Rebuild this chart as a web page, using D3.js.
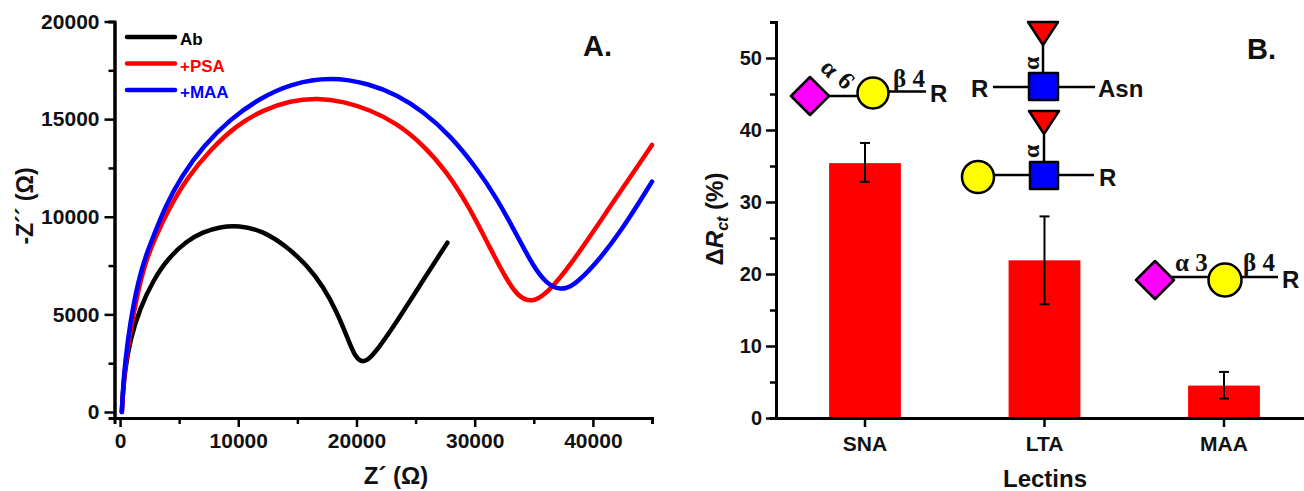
<!DOCTYPE html>
<html lang="en">
<head>
  <meta charset="UTF-8">
  <title>Impedance and lectins</title>
  <script src="https://d3js.org/d3.v7.min.js"></script>
  <style>
    html, body { margin: 0; padding: 0; background: #fff; overflow: hidden; }
    text { font-family: "Liberation Sans", Arial, sans-serif; font-weight: bold; fill: #111; }
  </style>
</head>
<body>
<div id="chart-container"></div>

<script>
// Nyquist curves, [Z', -Z'']
var abCurve = [[150,0],[260,1100],[423,2150],[846,3690],[1692,5330],[2817,6760],[4086,7890],[5643,8760],[7000,9220],[8460,9480],[10000,9570],[12124,9270],[14103,8470],[15795,7530],[17200,6420],[18333,5140],[19315,3690],[19882,2820],[20584,2480],[21430,2900],[23122,4350],[25381,6506],[27690,8673]];
var psaCurve = [[150,0],[260,1200],[423,2300],[846,4047],[1413,5891],[2115,7633],[3020,9000],[4086,10348],[5643,11972],[7614,13422],[9873,14703],[12124,15471],[14382,15948],[16751,16090],[18950,15900],[21151,15471],[23410,14790],[25660,13678],[27640,12310],[29611,10436],[31303,8386],[32716,6762],[33697,5900],[34831,5600],[36100,6050],[38087,7500],[40888,10005],[45000,13678]];
var maaCurve = [[150,0],[260,1300],[423,2510],[846,4560],[1548,6762],[2259,8146],[2792,8950],[3807,10518],[5220,12100],[7047,13620],[9306,15000],[11844,16071],[14382,16804],[17851,17180],[21151,16804],[23410,16240],[25660,15385],[27919,14170],[30178,12485],[31870,10948],[33562,9068],[34966,7444],[36100,6560],[37225,6230],[38350,6450],[40042,7444],[42301,9170],[45000,11798]];

var legendNames = ["Ab", "+PSA", "+MAA"];
var legendColors = ["#000000", "#ff0000", "#0000ff"];

var nyquistXTicks = [0, 10000, 20000, 30000, 40000];
var nyquistXMinor = [5000, 15000, 25000, 35000, 45000];
var nyquistYTicks = [0, 5000, 10000, 15000, 20000];
var nyquistYMinor = [2500, 7500, 12500, 17500];

// bar panel
var lectins = ["SNA", "LTA", "MAA"];
var deltaRct = [35.4, 21.9, 4.5];
var errLow = [32.8, 15.8, 2.7];
var errHigh = [38.2, 28, 6.4];
var barYTicks = [0, 10, 20, 30, 40, 50];
var barYMinor = [5, 15, 25, 35, 45, 55];

var svg = d3.select("#chart-container")
  .append("svg")
  .attr("width", 1304)
  .attr("height", 491)
  .style("display", "block");

function styleAxis(g, size) {
  g.selectAll("path").attr("stroke", "#000").attr("stroke-width", 3);
  g.selectAll("line").attr("stroke", "#000").attr("stroke-width", 2.5);
  g.selectAll("text").style("font-size", size + "px").attr("fill", "#111");
}

// ---- panel A
var x = d3.scaleLinear().domain([-470, 45000]).range([114.5, 652]);
var y = d3.scaleLinear().domain([-307, 20000]).range([418, 21.5]);

svg.append("g")
  .attr("transform", "translate(0,418)")
  .call(d3.axisBottom(x).tickValues(nyquistXMinor).tickSize(6).tickFormat(""))
  .call(styleAxis, 21);
svg.append("g")
  .attr("transform", "translate(0,418)")
  .call(d3.axisBottom(x).tickValues(nyquistXTicks).tickSize(9).tickSizeOuter(0).tickPadding(6).tickFormat(d3.format("d")))
  .call(styleAxis, 21);
svg.append("g")
  .attr("transform", "translate(114.5,0)")
  .call(d3.axisLeft(y).tickValues(nyquistYMinor).tickSize(6).tickFormat(""))
  .call(styleAxis, 21);
svg.append("g")
  .attr("transform", "translate(114.5,0)")
  .call(d3.axisLeft(y).tickValues(nyquistYTicks).tickSize(10).tickSizeOuter(0).tickPadding(5).tickFormat(d3.format("d")))
  .call(styleAxis, 21);

var line = d3.line()
  .x(d => x(d[0]))
  .y(d => y(d[1]))
  .curve(d3.curveBasis);

[abCurve, psaCurve, maaCurve].forEach(function(curve, i) {
  svg.append("path")
    .datum(curve)
    .attr("fill", "none")
    .attr("stroke", legendColors[i])
    .attr("stroke-width", 4.5)
    .attr("stroke-linecap", "round")
    .attr("d", line);
});

// legend
legendNames.forEach(function(name, i) {
  var ly = 37 + i * 26.5;
  svg.append("line")
    .attr("x1", 127).attr("x2", 175).attr("y1", ly).attr("y2", ly)
    .attr("stroke", legendColors[i]).attr("stroke-width", 4.5).attr("stroke-linecap", "round");
  svg.append("text")
    .attr("x", 180).attr("y", ly + 8)
    .style("font-size", "17px")
    .style("fill", legendColors[i])
    .text(name);
});

svg.append("text")
  .attr("x", 396).attr("y", 484)
  .attr("text-anchor", "middle")
  .style("font-size", "24px")
  .text("Z\u00b4 (\u03a9)");
svg.append("text")
  .attr("transform", "translate(33,206) rotate(-90)")
  .attr("text-anchor", "middle")
  .style("font-size", "23px")
  .text("-Z\u00b4\u00b4 (\u03a9)");
svg.append("text")
  .attr("x", 583).attr("y", 56)
  .style("font-size", "29px")
  .text("A.");

// ---- panel B
var bx = d3.scaleBand().domain(lectins).range([775.25, 1313.75]).paddingInner(0.6).paddingOuter(0.3);
var by = d3.scaleLinear().domain([0, 55]).range([418, 22]);

svg.selectAll("rect.bar")
  .data(lectins)
  .enter()
  .append("rect")
  .attr("class", "bar")
  .attr("x", d => bx(d))
  .attr("width", bx.bandwidth())
  .attr("y", (d, i) => by(deltaRct[i]))
  .attr("height", (d, i) => by(0) - by(deltaRct[i]))
  .attr("fill", "#ff0000");

lectins.forEach(function(name, i) {
  var cx = bx(name) + bx.bandwidth() / 2;
  var err = svg.append("g").attr("stroke", "#000").attr("stroke-width", 2);
  err.append("line").attr("x1", cx).attr("x2", cx).attr("y1", by(errLow[i])).attr("y2", by(errHigh[i]));
  err.append("line").attr("x1", cx - 5).attr("x2", cx + 5).attr("y1", by(errLow[i])).attr("y2", by(errLow[i]));
  err.append("line").attr("x1", cx - 5).attr("x2", cx + 5).attr("y1", by(errHigh[i])).attr("y2", by(errHigh[i]));
});

svg.append("g")
  .attr("transform", "translate(0,418)")
  .call(d3.axisBottom(bx).tickSize(9).tickSizeOuter(0).tickPadding(9))
  .call(styleAxis, 21);
svg.append("g")
  .attr("transform", "translate(776,0)")
  .call(d3.axisLeft(by).tickValues(barYMinor).tickSize(6).tickFormat(""))
  .call(styleAxis, 20);
svg.append("g")
  .attr("transform", "translate(776,0)")
  .call(d3.axisLeft(by).tickValues(barYTicks).tickSize(10).tickSizeOuter(0).tickPadding(4))
  .call(styleAxis, 20);

svg.append("text")
  .attr("x", 1045).attr("y", 487)
  .attr("text-anchor", "middle")
  .style("font-size", "24px")
  .text("Lectins");

var yTitle = svg.append("text")
  .attr("transform", "translate(723,219) rotate(-90)")
  .attr("text-anchor", "middle")
  .style("font-size", "24px");
yTitle.append("tspan").text("\u0394");
yTitle.append("tspan").style("font-style", "italic").text("R");
yTitle.append("tspan").style("font-style", "italic").style("font-size", "16px").attr("dy", 5).text("ct");
yTitle.append("tspan").attr("dy", -5).text(" (%)");

svg.append("text")
  .attr("x", 1247).attr("y", 59)
  .style("font-size", "29px")
  .text("B.");

// ---- glycan cartoons
function bond(x1, y1, x2, y2) {
  svg.append("line")
    .attr("x1", x1).attr("y1", y1).attr("x2", x2).attr("y2", y2)
    .attr("stroke", "#000").attr("stroke-width", 2.5);
}
function shape(points, fill) {
  svg.append("polygon")
    .attr("points", points.map(p => p.join(",")).join(" "))
    .attr("fill", fill)
    .attr("stroke", "#000").attr("stroke-width", 2.5)
    .attr("stroke-linejoin", "round");
}
function diamond(cx, cy) {
  shape([[cx - 19, cy], [cx, cy - 19], [cx + 19, cy], [cx, cy + 19]], "#ff00ff");
}
function galactose(cx, cy, r) {
  svg.append("circle")
    .attr("cx", cx).attr("cy", cy).attr("r", r)
    .attr("fill", "#ffff00")
    .attr("stroke", "#000").attr("stroke-width", 2.5);
}
function square(x0, y0, w, h) {
  shape([[x0, y0], [x0 + w, y0], [x0 + w, y0 + h], [x0, y0 + h]], "#0000ff");
}
function fucose(cx, top) {
  shape([[cx - 15, top], [cx + 15, top], [cx, top + 23]], "#ff0000");
}
function label(str, lx, ly, size, rotate, serif) {
  var t = svg.append("text")
    .attr("transform", "translate(" + lx + "," + ly + ")" + (rotate ? " rotate(" + rotate + ")" : ""))
    .style("font-size", size + "px")
    .text(str);
  if (serif) t.style("font-family", "'Liberation Serif', serif");
}

// SNA
bond(826, 96, 860, 96);
bond(888, 91.5, 926, 91.5);
diamond(810, 96);
galactose(873, 93, 15.5);
label("\u03b1", 819, 69, 25, 45, true);
label("6", 836, 82, 25, 45, true);
label("\u03b2 4", 893, 87, 25, 0, true);
label("R", 930, 102, 24);

// LTA, upper structure
bond(1043, 45, 1043, 72);
bond(993, 87, 1095, 87);
fucose(1043, 22);
square(1029, 73, 29, 27);
label("\u03b1", 1039, 70, 24, -90, true);
label("R", 971, 97, 24);
label("Asn", 1098, 97, 24);

// LTA, lower structure
bond(1044, 135, 1044, 162);
bond(994, 175, 1094, 175);
fucose(1044, 111);
square(1030, 162, 28, 27);
galactose(978, 177, 16);
label("\u03b1", 1039, 158, 24, -90, true);
label("R", 1099, 186, 24);

// MAA
bond(1172, 277, 1210, 277);
bond(1240, 277, 1278, 277);
diamond(1155, 280);
galactose(1225, 280, 16.5);
label("\u03b1 3", 1175, 271, 25, 0, true);
label("\u03b2 4", 1243, 271, 25, 0, true);
label("R", 1282, 288, 24);
</script>
</body>
</html>
